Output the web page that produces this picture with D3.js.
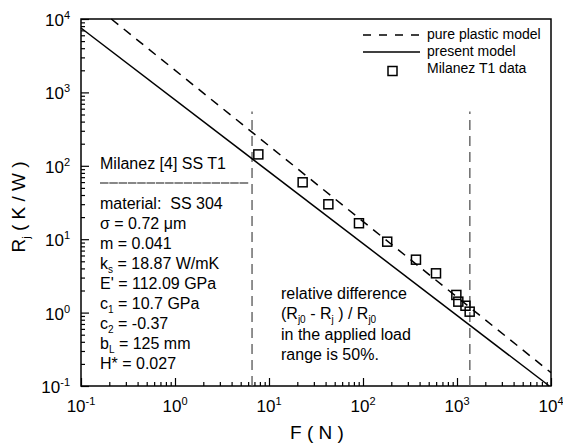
<!DOCTYPE html>
<html>
<head>
<meta charset="utf-8">
<script src="https://cdn.jsdelivr.net/npm/d3@7"></script>
<style>
  body { margin: 0; background: #fff; }
  text { font-family: Arial, "Liberation Sans", sans-serif; fill: #000; white-space: pre; }
</style>
</head>
<body>
<div id="chart"></div>
<script>
// tick exponents (both axes are log10, 1e-1 .. 1e4)
var tickExps = [-1, 0, 1, 2, 3, 4];

// pure plastic model (dashed)
var plasticF = [0.21, 10000];
var plasticR = [10000, 0.152];

// present model (solid)
var presentF = [0.1, 9600];
var presentR = [7540, 0.1];

// Milanez T1 data (squares)
var dataF = [7.7, 22.8, 42.8, 90.6, 181, 366, 598, 984, 1033, 1231, 1364];
var dataR = [143, 59.6, 29.9, 16.5, 9.25, 5.26, 3.43, 1.74, 1.41, 1.24, 1.03];

// applied load range (vertical dashed)
var loadF = [6.6, 1370];
var loadR = [0.1, 550];

var legendNames = ["pure plastic model", "present model", "Milanez T1 data"];

var svg = d3.select("#chart")
            .append("svg")
            .attr("width", 563)
            .attr("height", 444);

var x = d3.scaleLog().domain([0.1, 10000]).range([81, 551]);
var y = d3.scaleLog().domain([0.1, 10000]).range([386, 19]);

// minor tick values 2..9 per decade
var minors = [];
for (var e = -1; e < 4; e++) {
    for (var k = 2; k <= 9; k++) { minors.push(k * Math.pow(10, e)); }
}
var majors = tickExps.map(function(p) { return Math.pow(10, p); });

function styleAxis(sel) {
    sel.select(".domain").remove();
    sel.selectAll("line").attr("stroke", "#000").attr("stroke-width", 1.2);
}

svg.append("g").attr("transform", "translate(0,386)")
   .call(d3.axisBottom(x).tickValues(majors).tickSize(-8).tickFormat(""))
   .call(styleAxis);
svg.append("g").attr("transform", "translate(0,386)")
   .call(d3.axisBottom(x).tickValues(minors).tickSize(-4).tickFormat(""))
   .call(styleAxis);
svg.append("g").attr("transform", "translate(81,0)")
   .call(d3.axisLeft(y).tickValues(majors).tickSize(-8).tickFormat(""))
   .call(styleAxis);
svg.append("g").attr("transform", "translate(81,0)")
   .call(d3.axisLeft(y).tickValues(minors).tickSize(-4).tickFormat(""))
   .call(styleAxis);

// frame
svg.append("rect")
   .attr("x", x(0.1)).attr("y", y(10000))
   .attr("width", x(10000) - x(0.1)).attr("height", y(0.1) - y(10000))
   .attr("fill", "none").attr("stroke", "#000").attr("stroke-width", 1.5);

// tick labels 10^n
svg.selectAll(".xlab").data(tickExps).enter()
   .append("text").attr("class", "xlab")
   .attr("x", function(d) { return x(Math.pow(10, d)); })
   .attr("y", 412)
   .attr("text-anchor", "middle")
   .style("font-size", "17px")
   .each(function(d) {
       var t = d3.select(this);
       t.append("tspan").text("10");
       t.append("tspan").attr("dy", -7).style("font-size", "11px").text(d);
   });

svg.selectAll(".ylab").data(tickExps).enter()
   .append("text").attr("class", "ylab")
   .attr("x", 70)
   .attr("y", function(d) { return y(Math.pow(10, d)) + 7; })
   .attr("text-anchor", "end")
   .style("font-size", "17px")
   .each(function(d) {
       var t = d3.select(this);
       t.append("tspan").text("10");
       t.append("tspan").attr("dy", -7).style("font-size", "11px").text(d);
   });

// axis titles
svg.append("text")
   .attr("x", 317).attr("y", 439)
   .attr("text-anchor", "middle")
   .style("font-size", "19px")
   .text("F ( N )");

var yt = svg.append("text")
   .attr("transform", "translate(25,207) rotate(-90)")
   .attr("text-anchor", "middle")
   .style("font-size", "19px");
yt.append("tspan").text("R");
yt.append("tspan").attr("dy", 5).style("font-size", "11px").text("j");
yt.append("tspan").attr("dy", -5).text(" ( K / W )");

// vertical load-range lines
svg.selectAll(".load").data(loadF).enter()
   .append("line").attr("class", "load")
   .attr("x1", function(d) { return x(d); })
   .attr("x2", function(d) { return x(d); })
   .attr("y1", y(loadR[0])).attr("y2", y(loadR[1]))
   .attr("stroke", "#555").attr("stroke-width", 1.3)
   .attr("stroke-dasharray", "10,6");

var line = d3.line()
    .x(function(d) { return x(d[0]); })
    .y(function(d) { return y(d[1]); });

svg.append("path")
   .datum(d3.zip(plasticF, plasticR))
   .attr("d", line)
   .attr("fill", "none").attr("stroke", "#000").attr("stroke-width", 1.5)
   .attr("stroke-dasharray", "9,7");

svg.append("path")
   .datum(d3.zip(presentF, presentR))
   .attr("d", line)
   .attr("fill", "none").attr("stroke", "#000").attr("stroke-width", 1.5);

svg.selectAll(".pt").data(d3.zip(dataF, dataR)).enter()
   .append("rect").attr("class", "pt")
   .attr("x", function(d) { return x(d[0]) - 4.5; })
   .attr("y", function(d) { return y(d[1]) - 4.5; })
   .attr("width", 9).attr("height", 9)
   .attr("fill", "none").attr("stroke", "#000").attr("stroke-width", 1.5);

// legend
var leg = svg.append("g");
leg.append("line").attr("x1", 363).attr("x2", 420).attr("y1", 35).attr("y2", 35)
   .attr("stroke", "#000").attr("stroke-width", 1.5).attr("stroke-dasharray", "8,8");
leg.append("line").attr("x1", 363).attr("x2", 420).attr("y1", 52).attr("y2", 52)
   .attr("stroke", "#000").attr("stroke-width", 1.5);
leg.append("rect").attr("x", 388).attr("y", 66.5).attr("width", 9).attr("height", 9)
   .attr("fill", "none").attr("stroke", "#000").attr("stroke-width", 1.5);
leg.selectAll("text").data(legendNames).enter()
   .append("text")
   .attr("x", 427)
   .attr("y", function(d, i) { return 39 + i * 17; })
   .style("font-size", "14px")
   .text(function(d) { return d; });

// rich text helper: parts = [[text, kind]], kind: "n" or "sub"
function rich(xp, yp, parts) {
    var t = svg.append("text").attr("x", xp).attr("y", yp).style("font-size", "16px");
    var shift = 0;
    parts.forEach(function(p) {
        var s = t.append("tspan").text(p[0]);
        if (p[1] == "sub") {
            s.attr("dy", 4 - shift).style("font-size", "10px");
            shift = 4;
        } else {
            s.attr("dy", -shift);
            shift = 0;
        }
    });
    return t;
}

var infoLines = [
    [["material:\u00a0 SS 304", "n"]],
    [["\u03c3 = 0.72 \u03bcm", "n"]],
    [["m = 0.041", "n"]],
    [["k", "n"], ["s", "sub"], [" = 18.87 W/mK", "n"]],
    [["E' = 112.09 GPa", "n"]],
    [["c", "n"], ["1", "sub"], [" = 10.7 GPa", "n"]],
    [["c", "n"], ["2", "sub"], [" = -0.37", "n"]],
    [["b", "n"], ["L", "sub"], [" = 125 mm", "n"]],
    [["H* = 0.027", "n"]]
];

rich(100, 169, [["Milanez [4] SS T1", "n"]]);
// separator drawn as a finely broken rule
svg.append("line").attr("x1", 100).attr("x2", 249).attr("y1", 183).attr("y2", 183)
   .attr("stroke", "#111").attr("stroke-width", 1.1)
   .attr("stroke-dasharray", "8.5,0.8");
infoLines.forEach(function(parts, i) {
    rich(100, 209 + i * 20, parts);
});

var noteLines = [
    [["relative difference", "n"]],
    [["(R", "n"], ["j0", "sub"], [" - R", "n"], ["j", "sub"], [" ) / R", "n"], ["j0", "sub"]],
    [["in the applied load", "n"]],
    [["range is 50%.", "n"]]
];
noteLines.forEach(function(parts, i) {
    rich(281, 299 + i * 20.3, parts);
});
</script>
</body>
</html>
